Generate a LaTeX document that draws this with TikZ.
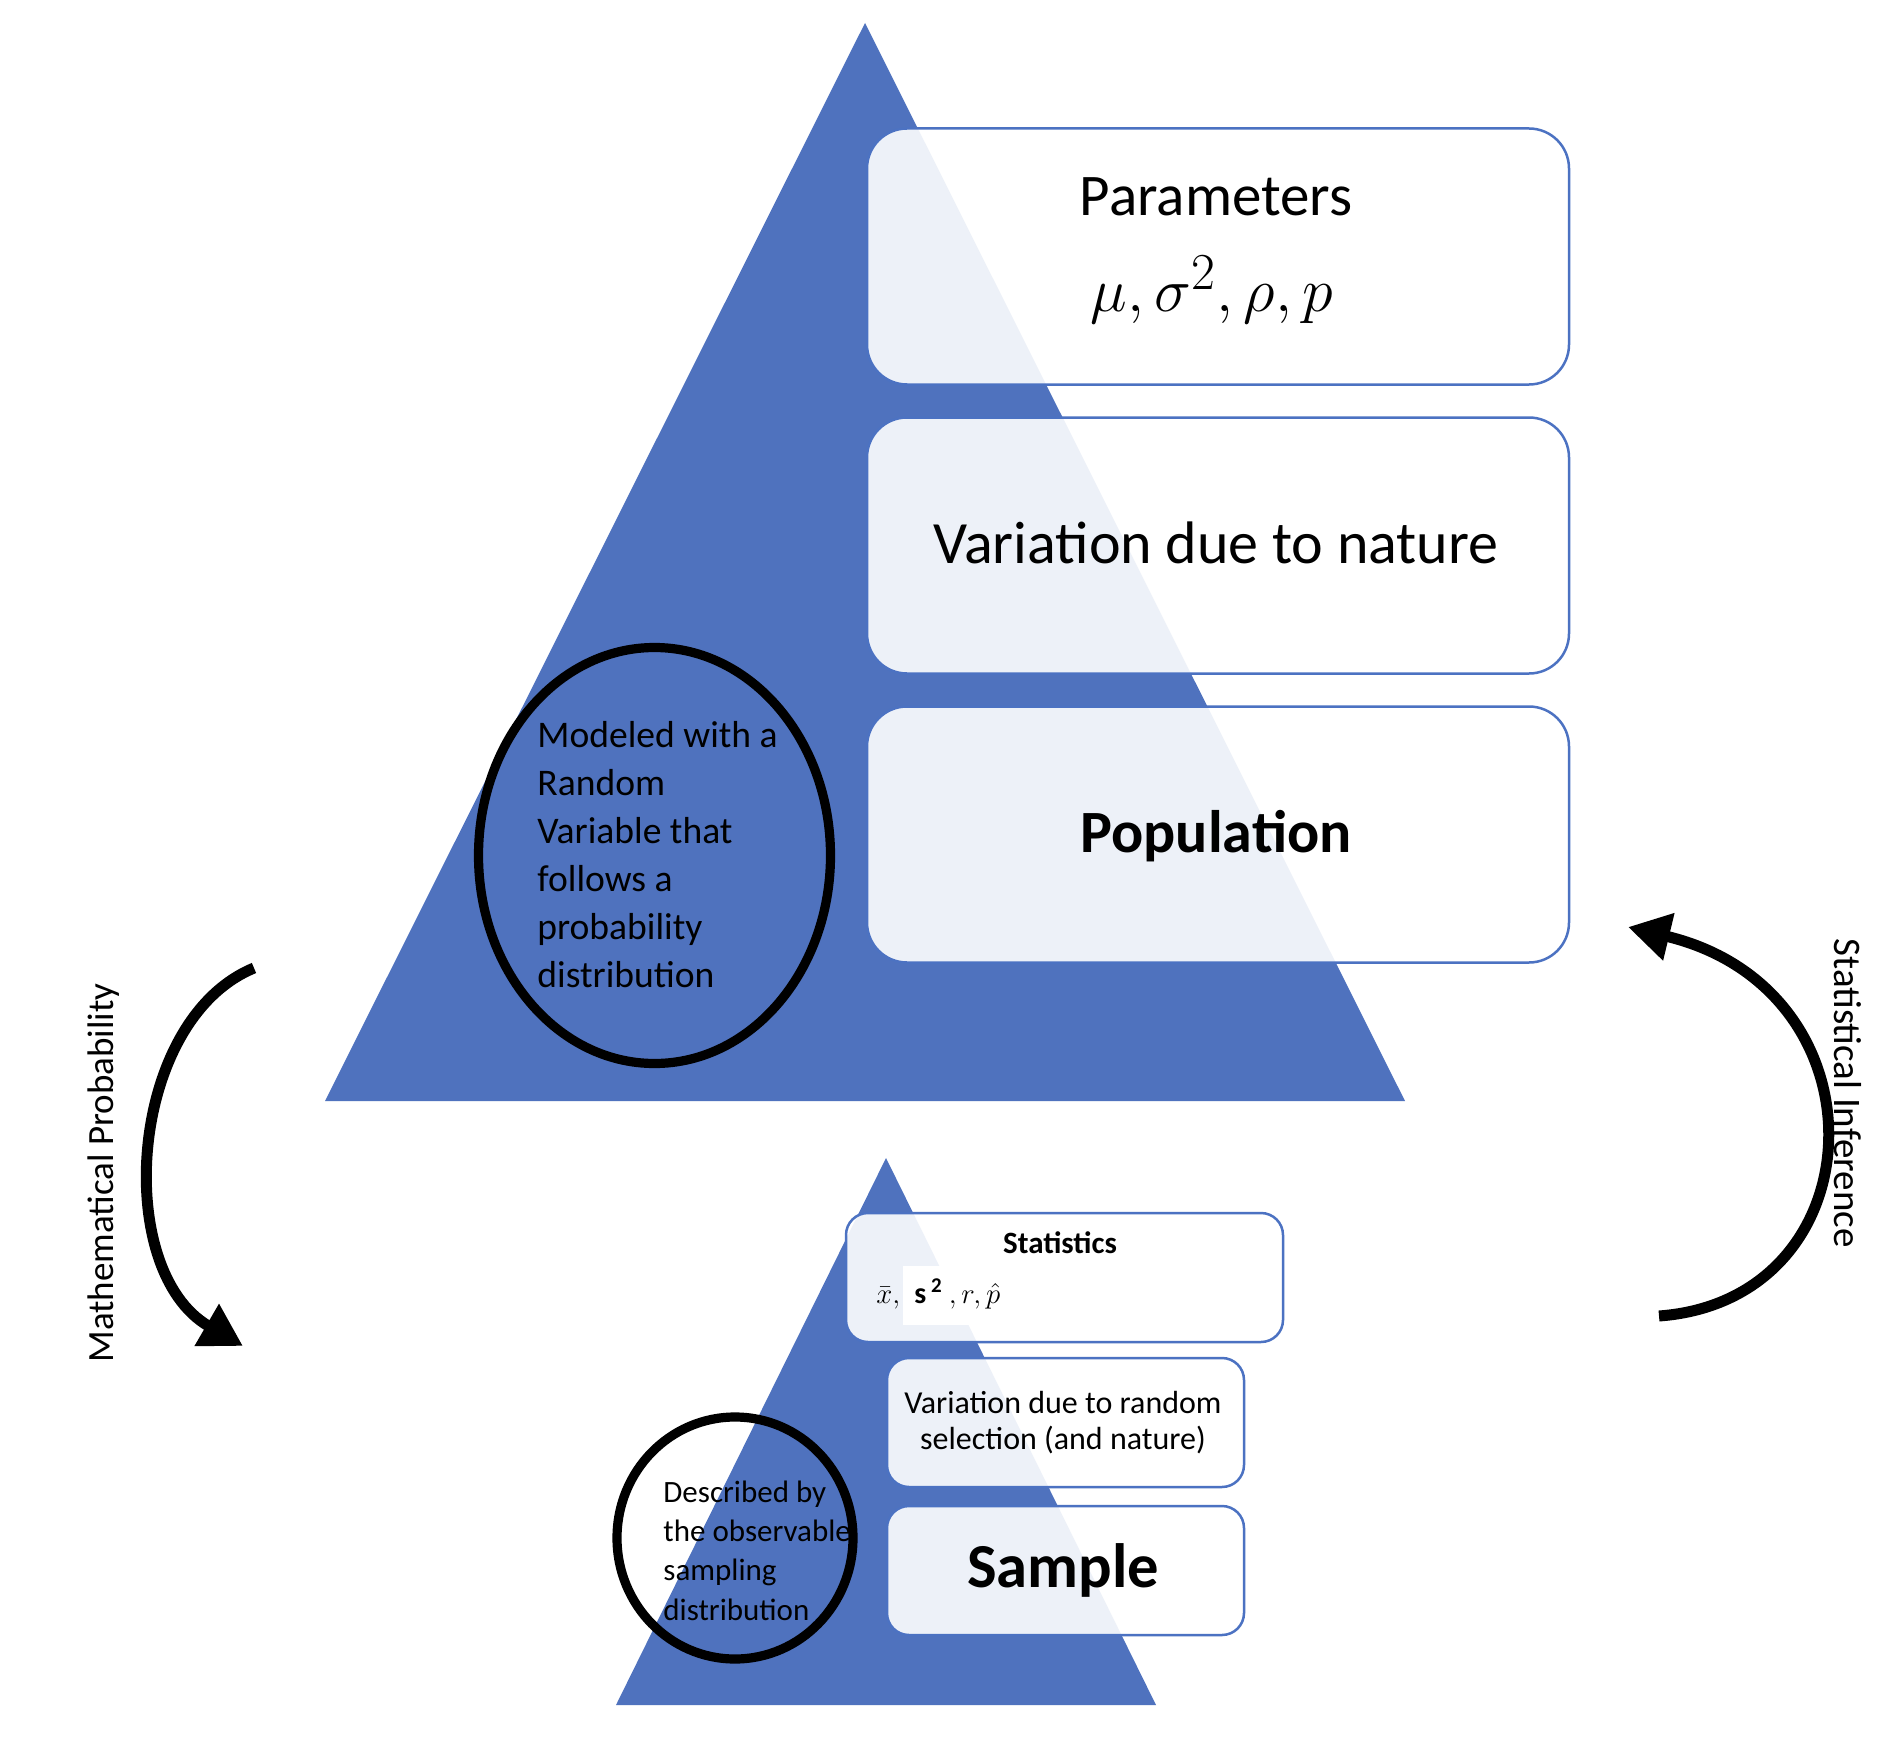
\documentclass[tikz,border=0pt]{standalone}
\usepackage{fontspec}
\setmainfont{Carlito}
\usetikzlibrary{shapes.geometric,arrows.meta}
\definecolor{triblue}{RGB}{79,114,190}
\definecolor{boxline}{RGB}{76,114,194}
\begin{document}
\begin{tikzpicture}[x=0.5pt,y=-0.5pt,
  bigbox/.style={draw=boxline,line width=1.25pt,fill=white,fill opacity=0.9,draw opacity=1,
    rounded corners=20pt,minimum width=351pt,minimum height=128pt,inner sep=0pt},
  smallbox/.style={draw=boxline,line width=1.25pt,fill=white,fill opacity=0.9,draw opacity=1,
    rounded corners=11pt,minimum height=64.5pt,inner sep=0pt},
  ring/.style={draw=black,ellipse,line width=4.6pt,inner sep=0pt},
  lbl/.style={inner sep=0pt,text=black},
  curvearrow/.style={draw=black,line width=5.5pt,-{Triangle[length=21pt,width=23pt]}},
]
\useasboundingbox (0,0) rectangle (1900,1744);
\fill[white] (0,0) rectangle (1900,1744);

% triangles
\fill[triblue] (865,23) -- (1405,1101) -- (325,1101) -- cycle;
\fill[triblue] (886,1158) -- (1156,1705) -- (616,1705) -- cycle;

% big boxes
\node[bigbox] (parbox) at (1218,256.5) {};
\node[bigbox] (varbox) at (1218,545.5) {};
\node[bigbox] (popbox) at (1218,834.5) {};

% small boxes
\node[smallbox,minimum width=218.5pt] (statbox) at (1064.5,1277.5) {};
\node[smallbox,minimum width=178.5pt] (rvarbox) at (1065.5,1422.5) {};
\node[smallbox,minimum width=178.5pt] (sampbox) at (1065.5,1570.5) {};

% ellipses
\node[ring,minimum width=176pt,minimum height=208pt] (bigell) at (654.5,855.5) {};
\node[ring,minimum width=118pt,minimum height=121pt] (smallell) at (735,1538) {};

% big box texts
\node[lbl,anchor=base,font=\fontsize{29.5pt}{35pt}\selectfont] (ptitle) at (1216,216) {Parameters};
\node[lbl,anchor=base,font=\fontsize{24.88pt}{30pt}\selectfont] (pmath) at (1212,312) {\scalebox{1.25}{$\mu,\sigma^{2},\rho,p$}};
\node[lbl,anchor=base,font=\fontsize{30pt}{36pt}\selectfont] (vtext) at (1216,563) {Variation due to nature};
\node[lbl,anchor=base,font=\fontsize{30pt}{36pt}\selectfont\bfseries] (poptext) at (1216,852) {Population};

% small box texts
\node[lbl,anchor=base,font=\fontsize{15.5pt}{18pt}\selectfont\bfseries] (stattext) at (1060,1253) {Statistics};
\fill[white] (903,1266) rectangle (970,1325);
\node[lbl,anchor=base west,font=\fontsize{15pt}{17pt}\selectfont] (statmath) at (876,1303)
  {$\bar{x},$\hspace{7pt}\textbf{s\,\textsuperscript{2}}\hspace{3pt}$,r,\hat{p}$};
\node[lbl,anchor=base,align=center,font=\fontsize{16pt}{18pt}\selectfont] (rvartext) at (1063,1449) {Variation due to random\\selection (and nature)};
\node[lbl,anchor=base,font=\fontsize{31.3pt}{36pt}\selectfont\bfseries] (samptext) at (1063,1587) {Sample};

% ellipse texts (base anchor = last line)
\node[lbl,anchor=base west,align=left,font=\fontsize{18.8pt}{24pt}\selectfont] (bigelltext) at (537,987)
  {Modeled with a\\Random\\Variable that\\follows a\\probability\\distribution};
\node[lbl,anchor=base west,align=left,font=\fontsize{15.5pt}{19.65pt}\selectfont] (smallelltext) at (663,1620)
  {Described by\\the observable\\sampling\\distribution};

% side labels
\node[lbl,rotate=90,font=\fontsize{18.5pt}{22pt}\selectfont] (mplabel) at (104,1173) {Mathematical Probability};
\node[lbl,rotate=-90,font=\fontsize{19.5pt}{23pt}\selectfont] (silabel) at (1848,1093) {Statistical Inference};

% curved arrows
\coordinate (mpS) at (254,968);
\coordinate (mpE) at (243,1346);
\coordinate (siS) at (1659,1316);
\coordinate (siE) at (1628,927);
\draw[curvearrow] (mpS) .. controls (128,1020) and (112,1270) .. (mpE);
\draw[curvearrow] (siS) .. controls (1878,1300) and (1890,990) .. (siE);
\end{tikzpicture}
\end{document}
